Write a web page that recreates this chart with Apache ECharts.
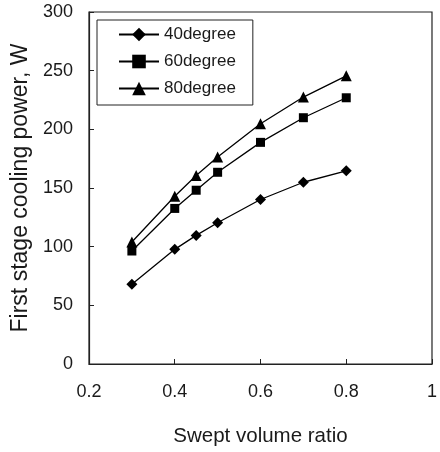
<!DOCTYPE html>
<html><head><meta charset="utf-8">
<script src="https://cdn.jsdelivr.net/npm/echarts@6/dist/echarts.min.js"></script>
<style>html,body{margin:0;padding:0;background:#fff}#c{width:440px;height:452px}</style>
</head><body><div id="c"></div>
<script>
const xValues = [0.3, 0.4, 0.45, 0.5, 0.6, 0.7, 0.8];
const deg40 = [68, 97.7, 109.6, 120.4, 140.2, 154.9, 164.6];
const deg60 = [96.3, 132.6, 148.1, 163.4, 188.9, 209.9, 226.9];
const deg80 = [104, 143, 160.6, 176.5, 204.8, 227.5, 245.6];
const seriesNames = ['40degree', '60degree', '80degree'];
const xTitle = 'Swept volume ratio';
const yTitle = 'First stage cooling power, W';

const pair = arr => xValues.map((x, i) => [x, arr[i]]);
const font = 'Liberation Sans, Arial, sans-serif';
const axisCol = '#222';
const txtCol = '#1a1a1a';
const chart = echarts.init(document.getElementById('c'), null, {renderer: 'canvas'});
const mk = (name, data, symbol, size) => ({
  name, type: 'line', data: pair(data), symbol, symbolSize: size,
  lineStyle: {color: '#000', width: 1.3}, itemStyle: {color: '#000'},
  animation: false
});
chart.setOption({
  animation: false,
  grid: {left: 89, right: 3, top: 12, bottom: 87, show: true, borderColor: axisCol, borderWidth: 1.2, backgroundColor: 'transparent'},
  legend: {
    orient: 'vertical', left: 97, top: 20,
    data: seriesNames,
    padding: [6, 17, 8, 21], itemGap: 10, itemWidth: 40, itemHeight: 17,
    borderColor: axisCol, borderWidth: 1, backgroundColor: '#fff',
    textStyle: {fontFamily: font, fontSize: 17, color: txtCol, lineHeight: 17}
  },
  xAxis: {
    type: 'value', min: 0.2, max: 1, interval: 0.2,
    name: xTitle, nameLocation: 'middle', nameGap: 62,
    nameTextStyle: {fontFamily: font, fontSize: 20.5, color: txtCol},
    axisLine: {lineStyle: {color: axisCol, width: 1.2}},
    axisTick: {inside: true, length: 5, lineStyle: {color: axisCol}},
    axisLabel: {fontFamily: font, fontSize: 18, color: txtCol, margin: 19,
      formatter: v => (Math.round(v * 10) / 10).toString()},
    splitLine: {show: false}
  },
  yAxis: {
    type: 'value', min: 0, max: 300, interval: 50,
    name: yTitle, nameLocation: 'middle', nameGap: 56,
    nameTextStyle: {fontFamily: font, fontSize: 23, color: txtCol},
    axisLine: {show: true, lineStyle: {color: axisCol, width: 1.2}},
    axisTick: {show: true, inside: true, length: 5, lineStyle: {color: axisCol}},
    axisLabel: {fontFamily: font, fontSize: 18, color: txtCol, margin: 16},
    splitLine: {show: false}
  },
  series: [
    mk(seriesNames[0], deg40, 'diamond', 11),
    mk(seriesNames[1], deg60, 'rect', 9),
    mk(seriesNames[2], deg80, 'triangle', 11)
  ]
});
</script></body></html>
